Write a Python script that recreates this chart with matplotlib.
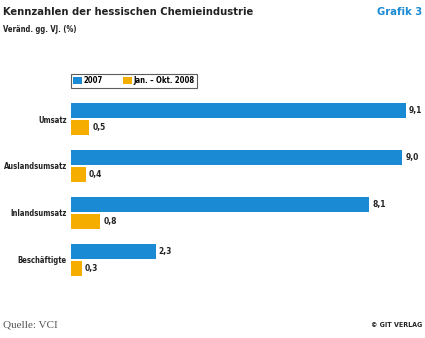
import matplotlib
matplotlib.use('Agg')
import matplotlib.pyplot as plt
import numpy as np

# data
categories = ['Umsatz', 'Auslandsumsatz', 'Inlandsumsatz', 'Beschäftigte']
values_2007 = [9.1, 9.0, 8.1, 2.3]
values_2008 = [0.5, 0.4, 0.8, 0.3]
series_labels = ['2007', 'Jan. – Okt. 2008']

blue = '#1a8ad4'
orange = '#f5ae00'
plt.rcParams['font.family'] = ['DejaVu Sans']
plt.rcParams['font.stretch'] = 'condensed'

fig = plt.figure(figsize=(4.25, 3.38), dpi=100)
ax = fig.add_axes([71 / 425, 0.148, 368 / 425, 0.583])

y = np.arange(len(categories))
off = 0.18
h = 0.32
b1 = ax.barh(y - off, values_2007, height=h, color=blue, label=series_labels[0])
b2 = ax.barh(y + off, values_2008, height=h, color=orange, label=series_labels[1])

# value labels with german decimal comma
for bars, vals in ((b1, values_2007), (b2, values_2008)):
    for bar, v in zip(bars, vals):
        ax.text(v + 0.08, bar.get_y() + bar.get_height() / 2, ('%.1f' % v).replace('.', ','),
                va='center', ha='left', fontsize=6, fontweight='bold', color='#222222')

ax.set_xlim(0, 10)
ax.set_ylim(3.6, -0.6)
ax.set_yticks(y)
ax.set_yticklabels(categories, fontsize=5.5, fontweight='bold', color='#222222')
ax.tick_params(axis='y', length=0, pad=3)
ax.set_xticks([])
for s in ax.spines.values():
    s.set_visible(False)

leg = fig.legend(handles=[b1, b2], labels=series_labels, loc='upper left',
                 bbox_to_anchor=(71 / 425, 1 - 74 / 338), ncol=2, frameon=True,
                 prop={'size': 5.5, 'weight': 'bold', 'stretch': 'condensed'},
                 handlelength=1.1, handleheight=1.1, handletextpad=0.3,
                 columnspacing=2.6, borderpad=0.3, borderaxespad=0, fancybox=False)
leg.get_frame().set_edgecolor('#333333')
leg.get_frame().set_linewidth(0.8)

fig.text(3 / 425, 1 - 12 / 338, 'Kennzahlen der hessischen Chemieindustrie', fontsize=8,
         fontweight='bold', color='#222222', va='center', ha='left')
fig.text(422 / 425, 1 - 12 / 338, 'Grafik 3', fontsize=8, fontweight='bold',
         color=blue, va='center', ha='right')
fig.text(3 / 425, 1 - 29 / 338, 'Veränd. gg. VJ. (%)', fontsize=5.5, fontweight='bold',
         color='#222222', va='center', ha='left')
fig.text(3 / 425, 1 - 325 / 338, 'Quelle: VCI', fontsize=8,
         family=['Liberation Serif', 'DejaVu Serif'], color='#555555', va='center', ha='left')
fig.text(422 / 425, 1 - 325 / 338, '© GIT VERLAG', fontsize=5, fontweight='bold',
         color='#222222', va='center', ha='right')

fig.savefig('out.png', dpi=100)
